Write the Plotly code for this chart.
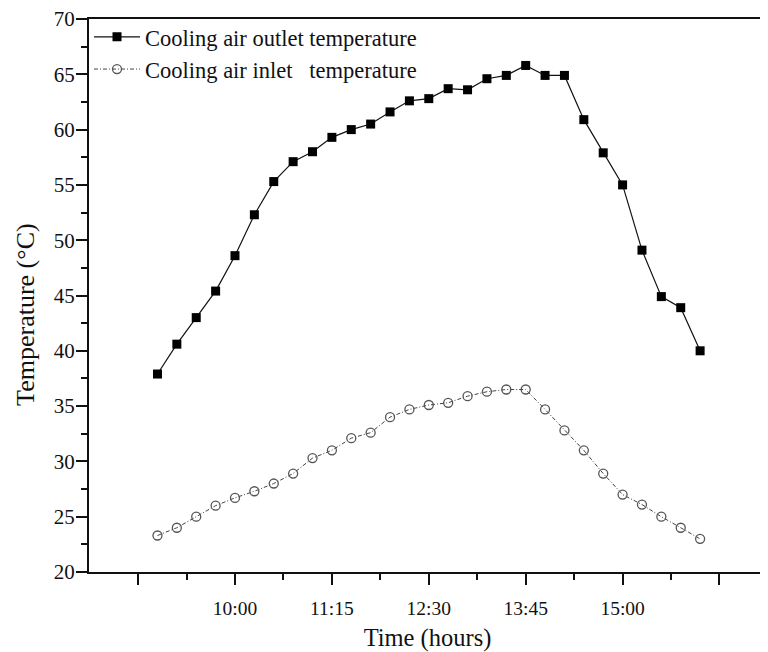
import plotly.graph_objects as go

times = ["9:00", "9:15", "9:30", "9:45", "10:00", "10:15", "10:30", "10:45",
         "11:00", "11:15", "11:30", "11:45", "12:00", "12:15", "12:30", "12:45",
         "13:00", "13:15", "13:30", "13:45", "14:00", "14:15", "14:30", "14:45",
         "15:00", "15:15", "15:30", "15:45", "16:00"]
outlet = [37.9, 40.6, 43.0, 45.4, 48.6, 52.3, 55.3, 57.1, 58.0, 59.3, 60.0, 60.5,
          61.6, 62.6, 62.8, 63.7, 63.6, 64.6, 64.9, 65.8, 64.9, 64.9, 60.9, 57.9,
          55.0, 49.1, 44.9, 43.9, 40.0]
inlet = [23.3, 24.0, 25.0, 26.0, 26.7, 27.3, 28.0, 28.9, 30.3, 31.0, 32.1, 32.6,
         34.0, 34.7, 35.1, 35.3, 35.9, 36.3, 36.5, 36.5, 34.7, 32.8, 31.0, 28.9,
         27.0, 26.1, 25.0, 24.0, 23.0]
tick_times = ["8:45", "10:00", "11:15", "12:30", "13:45", "15:00", "16:15"]
tick_labels = ["", "10:00", "11:15", "12:30", "13:45", "15:00", ""]
y_ticks = [20, 25, 30, 35, 40, 45, 50, 55, 60, 65, 70]


def to_min(t):
    h, m = t.split(":")
    return int(h) * 60 + int(m)


x = [to_min(t) for t in times]
tickvals = [to_min(t) for t in tick_times]

FONT = "Liberation Serif, Times New Roman, serif"

fig = go.Figure()
fig.add_trace(go.Scatter(
    x=x, y=outlet, mode="lines+markers",
    name="Cooling air outlet temperature",
    line=dict(color="#111111", width=1.2),
    marker=dict(symbol="square", size=9, color="#000000",
                line=dict(color="#000000", width=0)),
))
fig.add_trace(go.Scatter(
    x=x, y=inlet, mode="lines+markers",
    name="Cooling air inlet   temperature",
    line=dict(color="#444444", width=1, dash="4px,2px,1px,2px"),
    marker=dict(symbol="circle-open", size=9, color="#555555",
                line=dict(color="#555555", width=1.3)),
))

fig.update_layout(
    width=760, height=644,
    margin=dict(l=81, r=2, t=11, b=80, autoexpand=False),
    paper_bgcolor="white", plot_bgcolor="white",
    font=dict(family=FONT, size=19, color="#111111"),
    showlegend=True,
    legend=dict(x=0.0, y=1.006, xanchor="left", yanchor="top",
                bgcolor="rgba(0,0,0,0)", font=dict(family=FONT, size=22.5, color="#111111"),
                itemwidth=46, tracegroupgap=0),
    xaxis=dict(
        range=[487, 1011], tickmode="array", tickvals=tickvals, ticktext=tick_labels,
        ticks="outside", ticklen=11, tickwidth=2, tickcolor="#111111",
        showline=True, linewidth=2, linecolor="#111111", mirror=True,
        showgrid=False, zeroline=False, automargin=False,
        minor=dict(tickmode="array", tickvals=[t + 37.5 for t in tickvals[:-1]],
                   ticks="outside", ticklen=6, tickwidth=2, tickcolor="#111111"),
        title=dict(text="Time (hours)", font=dict(family=FONT, size=24.5), standoff=14),
        tickfont=dict(family=FONT, size=19.5),
        ticklabelstandoff=7,
        ticklabeloverflow="allow",
    ),
    yaxis=dict(
        range=[20, 70], tickmode="array", tickvals=y_ticks,
        ticktext=[str(v) for v in y_ticks],
        ticks="outside", ticklen=11, tickwidth=2, tickcolor="#111111",
        showline=True, linewidth=2, linecolor="#111111", mirror=True,
        showgrid=False, zeroline=False, automargin=False,
        minor=dict(tickmode="array", tickvals=[v + 2.5 for v in y_ticks[:-1]],
                   ticks="outside", ticklen=6, tickwidth=2, tickcolor="#111111"),
        tickfont=dict(family=FONT, size=21),
        ticklabelstandoff=-3,
        ticklabeloverflow="allow",
    ),
    annotations=[dict(
        text="Temperature (°C)", textangle=-90, showarrow=False,
        xref="paper", yref="paper", x=-0.093, y=0.465,
        xanchor="center", yanchor="middle",
        font=dict(family=FONT, size=26, color="#111111"),
    )],
)

fig.write_html("out.html")
